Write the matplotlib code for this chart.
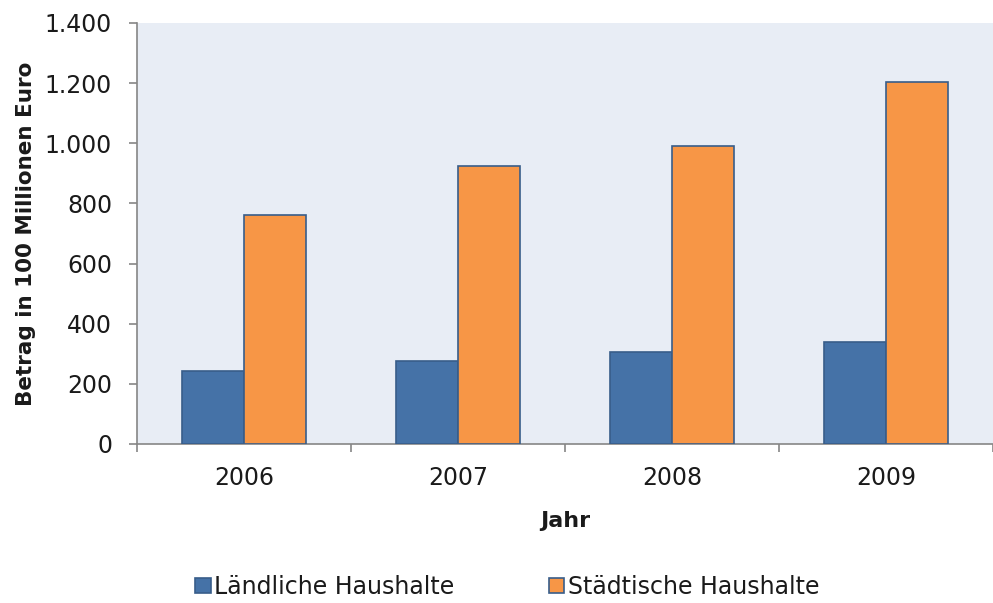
import numpy as np
import matplotlib.pyplot as plt

jahre = ["2006", "2007", "2008", "2009"]
laendlich = [242, 276, 306, 338]
staedtisch = [761, 925, 991, 1205]
yticks = [0, 200, 400, 600, 800, 1000, 1200, 1400]
ytick_labels = ["0", "200", "400", "600", "800", "1.000", "1.200", "1.400"]

plt.rcParams['font.family'] = ['DejaVu Sans']
txt = "#1a1a1a"

fig = plt.figure(figsize=(9.93, 6.03), dpi=100)
ax = fig.add_axes([0.138, 0.2637, 0.862, 0.6982])
ax.set_facecolor("#e8edf5")

x = np.arange(len(jahre))
w = 0.29
ax.bar(x - w/2, laendlich, w, color="#4572a7", edgecolor="#385d8a", linewidth=1.2,
       label="Ländliche Haushalte", zorder=3)
ax.bar(x + w/2, staedtisch, w, color="#f79646", edgecolor="#385d8a", linewidth=1.2,
       label="Städtische Haushalte", zorder=3)

ax.set_xlim(-0.5, len(jahre) - 0.5)
ax.set_ylim(0, 1400)
ax.set_yticks(yticks)
ax.set_yticklabels(ytick_labels)
ax.set_xticks(x)
ax.set_xticklabels(jahre)
ax.set_xticks(np.arange(len(jahre) + 1) - 0.5, minor=True)
ax.tick_params(axis='x', which='major', length=0, pad=16, labelsize=17, labelcolor=txt)
ax.tick_params(axis='x', which='minor', length=6, color="#868686", width=1.2, direction='out')
ax.tick_params(axis='y', length=6, color="#868686", width=1.2, direction='out',
               labelsize=17, pad=12, labelcolor=txt)

for s in ["top", "right"]:
    ax.spines[s].set_visible(False)
for s in ["left", "bottom"]:
    ax.spines[s].set_color("#868686")
    ax.spines[s].set_linewidth(1.2)

ax.set_ylabel("Betrag in 100 Millionen Euro", fontsize=15.5, fontweight="bold", labelpad=6, color=txt)
ax.set_xlabel("Jahr", fontsize=16, fontweight="bold", labelpad=15, color=txt)

fig.legend(loc="center", bbox_to_anchor=(0.511, 0.027), ncol=2, frameon=False,
           fontsize=17, handlelength=0.65, handleheight=0.65, handletextpad=0.15,
           columnspacing=4.0, labelcolor=txt)

fig.savefig("out.png", dpi=100)
